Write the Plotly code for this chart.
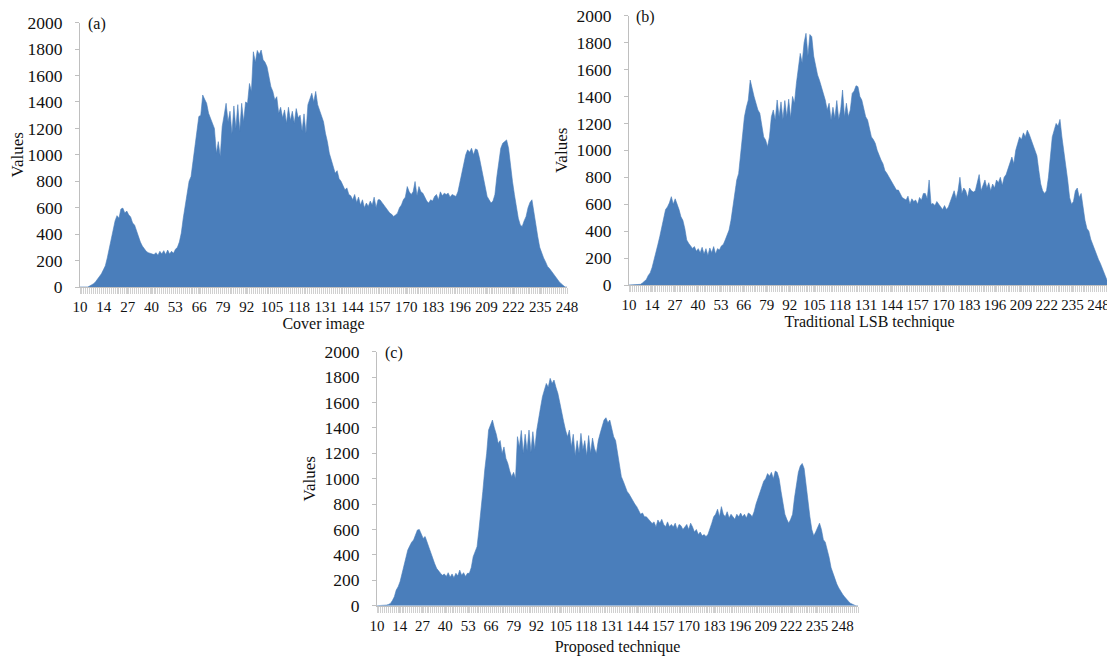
import plotly.graph_objects as go

# ---------------- data ----------------
tick_labels = ["10", "14", "27", "40", "53", "66", "79", "92", "105", "118",
               "131", "144", "157", "170", "183", "196", "209", "222", "235", "248"]

cover_values = [
    0, 0, 0, 0, 0, 8, 15, 25, 40, 60,
    80, 100, 130, 160, 220, 300, 370, 430, 500, 540,
    520, 590, 597, 560, 575, 546, 530, 484, 470, 420,
    380, 340, 310, 285, 270, 260, 255, 250, 245, 260,
    240, 270, 250, 275, 245, 280, 250, 270, 255, 285,
    300, 340, 408, 520, 610, 720, 800, 836, 950, 1038,
    1180, 1290, 1300, 1453, 1420, 1390, 1315, 1280, 1240, 1200,
    1012, 1100, 987, 1214, 1300, 1390, 1250, 1330, 1160, 1370,
    1200, 1380, 1180, 1390, 1250, 1400, 1390, 1540, 1480, 1780,
    1700, 1790, 1760, 1793, 1720, 1700, 1667, 1600, 1516, 1480,
    1415, 1440, 1315, 1360, 1280, 1340, 1240, 1360, 1260, 1330,
    1240, 1350, 1280, 1300, 1180, 1310, 1163, 1380, 1420, 1466,
    1400, 1480, 1380, 1340, 1300, 1250, 1163, 1100, 1012, 960,
    920, 861, 880, 820, 800, 770, 735, 750, 700, 690,
    660, 700, 640, 680, 620, 660, 600, 635, 610, 650,
    620, 680, 600, 660, 660, 640, 620, 597, 580, 560,
    550, 534, 545, 559, 600, 620, 660, 680, 760, 720,
    700, 720, 798, 690, 760, 720, 710, 680, 650, 635,
    660, 650, 685, 700, 660, 720, 690, 710, 700, 710,
    680, 700, 690, 685, 720, 786, 850, 940, 1000, 1038,
    1020, 1050, 1000, 1045, 1038, 980, 900, 836, 760, 685,
    660, 635, 650, 700, 836, 950, 1050, 1088, 1100, 1113,
    1050, 912, 800, 700, 610, 520, 470, 458, 500, 534,
    600, 640, 660, 560, 458, 380, 300, 250, 220, 190,
    156, 140, 120, 100, 80, 55, 40, 25, 10, 0,
    0,
]

lsb_values = [
    0, 0, 0, 0, 0, 0, 5, 15, 25, 40,
    70, 90, 130, 180, 235, 300, 360, 433, 480, 560,
    580, 610, 656, 600, 640, 606, 560, 507, 480, 420,
    334, 310, 290, 272, 285, 250, 270, 240, 280, 230,
    270, 220, 275, 240, 285, 230, 270, 260, 290, 300,
    334, 370, 408, 480, 580, 700, 780, 829, 960, 1126,
    1250, 1320, 1374, 1522, 1450, 1400, 1350, 1300, 1275, 1200,
    1100, 1077, 1027, 1100, 1250, 1300, 1225, 1374, 1250, 1360,
    1230, 1370, 1250, 1380, 1240, 1400, 1350, 1497, 1600, 1720,
    1650, 1800, 1869, 1700, 1860, 1844, 1700, 1621, 1560, 1520,
    1473, 1420, 1374, 1300, 1350, 1225, 1320, 1240, 1370, 1230,
    1300, 1448, 1250, 1350, 1250, 1300, 1423, 1440, 1480, 1473,
    1400, 1374, 1300, 1250, 1225, 1150, 1100, 1080, 1052, 1000,
    960, 928, 900, 850, 830, 804, 780, 760, 730, 705,
    705, 680, 650, 640, 631, 660, 600, 640, 620, 631,
    600, 650, 630, 680, 680, 640, 780, 600, 606, 590,
    620, 600, 580, 560, 590, 560, 580, 620, 650, 700,
    640, 700, 800, 680, 720, 700, 650, 720, 700, 690,
    700, 760, 820, 700, 740, 780, 720, 760, 700, 750,
    720, 780, 760, 800, 740, 800, 820, 860, 900, 950,
    900, 1000, 1050, 1100, 1080, 1130, 1100, 1150, 1120, 1080,
    1050, 1000, 960, 850, 750, 700, 680, 700, 800, 950,
    1100, 1150, 1200, 1180, 1230, 1100, 1000, 900, 780, 650,
    600, 620, 700, 720, 650, 680, 560, 480, 420, 400,
    340, 300, 260, 220, 190, 160, 120, 80, 40, 15,
    0,
]

proposed_values = [
    0, 0, 0, 0, 0, 5, 10, 18, 40, 70,
    123, 150, 190, 255, 330, 380, 438, 470, 500, 517,
    560, 596, 600, 560, 530, 545, 500, 465, 420, 360,
    330, 294, 270, 255, 240, 250, 230, 260, 225, 250,
    220, 255, 235, 280, 240, 260, 230, 255, 255, 300,
    386, 420, 465, 600, 727, 900, 1068, 1200, 1383, 1420,
    1462, 1400, 1350, 1278, 1300, 1199, 1250, 1160, 1120, 1060,
    1016, 1050, 1000, 1331, 1250, 1380, 1200, 1350, 1220, 1383,
    1210, 1370, 1230, 1380, 1488, 1560, 1646, 1700, 1750, 1720,
    1790, 1750, 1777, 1720, 1672, 1600, 1514, 1450, 1383, 1330,
    1383, 1250, 1350, 1180, 1300, 1200, 1357, 1230, 1300, 1180,
    1340, 1200, 1320, 1240, 1199, 1300, 1357, 1420, 1462, 1480,
    1440, 1462, 1400, 1331, 1300, 1199, 1100, 1016, 980, 937,
    900, 880, 850, 832, 800, 780, 753, 720, 730, 700,
    700, 680, 660, 648, 660, 620, 675, 650, 680, 640,
    622, 660, 622, 640, 620, 650, 600, 640, 630, 600,
    620, 640, 600, 650, 620, 580, 600, 560, 580, 550,
    560, 545, 560, 600, 650, 700, 720, 760, 700, 780,
    720, 700, 740, 690, 720, 700, 680, 720, 700, 730,
    700, 720, 690, 730, 720, 700, 740, 800, 850, 900,
    940, 980, 1000, 1040, 1020, 1050, 1000, 1060, 1050, 1000,
    900, 800, 720, 680, 650, 680, 720, 850, 950, 1050,
    1100, 1120, 1080, 950, 800, 700, 600, 550, 580, 620,
    650, 600, 520, 500, 450, 380, 300, 250, 200, 170,
    140, 110, 90, 70, 50, 35, 20, 10, 5, 0,
    0,
]

panel_titles = ["Cover image", "Traditional LSB technique", "Proposed technique"]
panel_tags = ["(a)", "(b)", "(c)"]
y_title = "Values"

# ---------------- layout helpers ----------------
W, H = 1115, 656
PAGE_OFFSET = 8          # default body margin of the html page
BLUE = "#4a7ebb"
FONT = "Liberation Serif"
AXIS_GRAY = "#bfbfbf"
BAND_GRAY = "#d0d0d0"


def xdom(left, right):
    return [(left - PAGE_OFFSET) / W, (right - PAGE_OFFSET) / W]


def ydom(top, bottom):
    return [1 - (bottom - PAGE_OFFSET) / H, 1 - (top - PAGE_OFFSET) / H]


def label_positions(labels, first, last, gap=6.0):
    """Spread tick labels like a typeset text row (wider labels get more room)."""
    pos = [0.0]
    for a, b in zip(labels[:-1], labels[1:]):
        pos.append(pos[-1] + (len(a) + len(b)) / 2 + gap)
    scale = (last - first) / pos[-1]
    return [first + p * scale for p in pos]


# (left, right, top(2000), bottom(0)) in page pixels, last label bin, title standoff
geometry = [
    (80, 567, 22.7, 287, 250, 3),
    (629, 1110, 15.7, 285, 244, 3),
    (377, 858, 351.7, 605.7, 242, 8),
]
series = [cover_values, lsb_values, proposed_values]

fig = go.Figure()
layout = {}
annotations = []
for i, vals in enumerate(series):
    sx = "" if i == 0 else str(i + 1)
    xa, ya = "x" + sx, "y" + sx
    left, right, top, bottom, last_lab, tstand = geometry[i]
    bins = list(range(len(vals)))
    fig.add_trace(go.Scatter(
        x=bins, y=vals, xaxis=xa, yaxis=ya,
        mode="lines", fill="tozeroy",
        line=dict(color=BLUE, width=0.6), fillcolor=BLUE,
        hoverinfo="skip", showlegend=False,
    ))
    layout["xaxis" + sx] = dict(
        domain=xdom(left, right), anchor=ya, automargin=False,
        range=[0, len(vals) - 1],
        tickmode="array",
        tickvals=label_positions(tick_labels, 0, last_lab),
        ticktext=tick_labels, tickangle=0, ticklabeloverflow="allow",
        ticks="outside", ticklen=6, tickcolor=BAND_GRAY, tickwidth=1,
        minor=dict(ticks="outside", ticklen=6, tickmode="linear", tick0=0,
                   dtick=1, tickcolor=BAND_GRAY, tickwidth=1),
        showline=True, linecolor=AXIS_GRAY, linewidth=1,
        showgrid=False, zeroline=False,
        tickfont=dict(family=FONT, size=15, color="#111"),
        title=dict(text=panel_titles[i], standoff=tstand,
                   font=dict(family=FONT, size=16, color="#111")),
        fixedrange=True,
    )
    layout["yaxis" + sx] = dict(
        domain=ydom(top, bottom), anchor=xa, automargin=False,
        range=[0, 2000], tickmode="linear", tick0=0, dtick=200,
        ticks="outside", ticklen=4, tickcolor=AXIS_GRAY,
        ticklabelstandoff=9, ticklabeloverflow="allow",
        showline=True, linecolor=AXIS_GRAY, linewidth=1,
        showgrid=False, zeroline=False,
        tickfont=dict(family=FONT, size=17.5, color="#111"),
        title=dict(text=y_title, standoff=4,
                   font=dict(family=FONT, size=17, color="#111")),
        fixedrange=True,
    )
    annotations.append(dict(
        text=panel_tags[i], xref=xa + " domain", yref=ya + " domain",
        x=0.035, y=0.995, xanchor="center", yanchor="middle",
        showarrow=False, font=dict(family=FONT, size=16, color="#111"),
    ))

fig.update_layout(
    width=W, height=H,
    margin=dict(l=0, r=0, t=0, b=0),
    paper_bgcolor="white", plot_bgcolor="white",
    annotations=annotations,
    **layout,
)

fig.write_html("out.html")
